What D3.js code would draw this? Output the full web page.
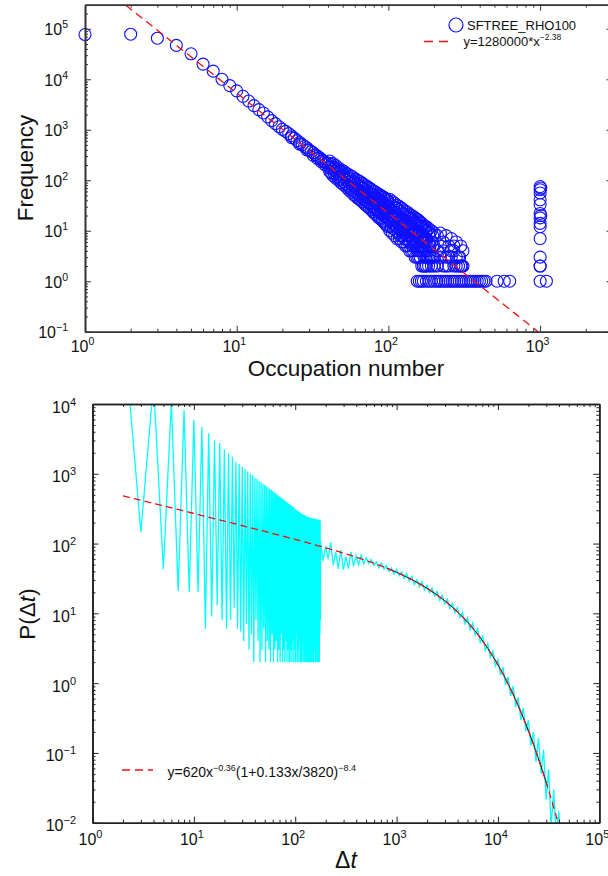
<!DOCTYPE html>
<html>
<head>
<meta charset="utf-8">
<script src="https://cdn.jsdelivr.net/npm/d3@7"></script>
<style>
  body { margin: 0; background: #fff; }
  svg text { font-family: "Liberation Sans", Arial, sans-serif; fill: #111; }
</style>
</head>
<body>
<svg id="chart" width="608" height="876"></svg>
<script>
// ---------- Occupation-number distribution (upper panel) ----------
// each occupation number with the frequencies observed for it
const occupation = [
  1,2,3,4,5,6,7,8,9,10,11,12,13,14,15,16,17,18,19,20,
  21,22,23,24,25,26,27,28,29,30,31,32,33,34,35,36,37,38,39,40,
  41,42,43,44,45,46,47,48,49,50,51,52,53,54,55,56,57,58,59,60,
  61,62,63,64,65,66,67,68,69,70,71,72,73,74,75,76,77,78,79,80,
  81,82,83,84,85,86,87,88,89,90,91,92,93,94,95,96,97,98,99,100,
  102,104,106,108,110,112,114,116,118,120,122,124,126,128,130,132,134,136,138,140,
  142,144,146,148,150,152,154,156,158,160,162,164,166,168,170,172,174,176,178,180,
  184,188,192,196,200,210,220,230,240,250,260,270,280,290,295,300,305,310,
  155,160,165,170,178,185,192,200,208,215,222,230,238,246,255,264,273,283,293,303,
  314,325,336,348,360,372,385,398,412,426,440,520,580,630,
  1000,1010,1100
];
const frequency = [
  [77000],[78000],[65000],[47000],[32000],[20000],[14500],[10000],[7500],[5900],
  [4600],[3700],[3000],[2500],[2150],[1800],[1520],[1320],[1150],[1020],
  [930],[840],[760,700],[680],[610],[560,520],[510],[470],[440,400],[395],
  [370],[350,310],[320],[300,270],[280],[265,235],[245],[230,205],[215],[220,180],
  [240,185,150],[205,140],[215,165,125],[180,135],[195,150,110],[165,118],[175,135,100],[150,105],[160,120,88],[140,95],
  [150,110,80],[125,85],[135,100,72],[115,78],[128,90,64],[108,70],[120,84,58],[98,64],[112,78,52],[92,60],
  [105,72,48],[85,55],[98,66,44],[80,50],[94,62,41],[74,47],[88,57,38],[70,44],[82,53,35],[66,41],
  [78,50,32],[62,38],[74,47,30],[58,36],[70,44,28],[55,34],[66,41,26],[52,31],[62,39,24],[50,29],
  [60,37,22],[46,27],[57,35,21],[44,26],[54,33,19],[42,24],[52,31,18],[40,23],[50,29,17],[38,22],
  [48,28,16],[36,21],[46,26,15],[34,20],[44,25,14],[32,19],[42,24,13],[31,18],[40,23,12],[30,17],
  [42,27,16,10],[33,20,12],[38,24,14,9],[30,18,11],[35,22,13,8],[28,17,10],[32,20,12,7],[26,15,9],[30,18,11,7],[24,14,8],
  [28,17,10,6],[22,13,8],[26,16,9,6],[21,12,7],[24,15,9,5],[19,11,7],[23,14,8,5],[18,10,6],[21,13,8,4],[17,10,6],
  [20,12,7,4],[16,9,5],[19,11,7,4],[15,9,5],[18,10,6,3],[14,8,5],[17,10,6,3],[13,8,4],[16,9,5,3],[13,7,4],
  [15,9,5,3],[12,7,4],[14,8,5,2],[12,6,4],[13,8,5,2],[11,6,3],[12,7,4,2],[10,6,3],[12,7,4,2],[10,5,3],
  [11,6,4,2],[9,5,3],[10,6,3,2],[8,5,3],[9,5,3,2],[8,4,2],[9,5,3],[6,2,4],[8,3,2],[5,2,3],
  [7,4,3],[4,2,5],[6,3,2],[3,2],[3],[5,2],[2],[4,2],
  [1],[1],[1],[1],[1],[1],[1],[1],[1],[1],[1],[1],[1],[1],[1],[1],[1],[1],[1],[1],
  [1],[1],[1],[1],[1],[1],[1],[1],[1],[1],[1],[1],[1],[1],
  [75,65,56,41,33,22,18,14,12,7,3,2,2,1],[70,20],[1]
];
const occFit = { a: 1280000, b: -2.38 };

// ---------- Inter-event time distribution (lower panel) ----------
// short gaps: even and odd Δt alternate between high and low counts
const gapEven = [ // Δt = 2, 4, ..., 176
  160000,20000,10500,8200,5900,4700,3800,3000,2750,2250,1950,1750,1480,1380,1260,1180,1080,1010,950,880,
  850,790,760,720,690,670,635,610,590,560,545,525,505,490,470,458,445,430,418,405,
  398,385,372,366,357,349,340,333,318,310,305,301,290,288,282,279,270,268,262,261,
  255,256,249,247,244,243,238,240,234,235,231,232,228,230,226,225,228,223,226,221,
  224,220,222,218,221,217,219,215
];
const gapOdd = [ // Δt = 3, 5, ..., 177
  145,43,21,20,20,6,9,13,8,6,8,12,6,5.5,4,7,3,5,2,8,
  4,2,3,6,2,4,3,2,5,2,3,4,2,3,2,5,2,3,2,4,
  2,3,2,2,3,2,4,2,3,2,5,2,3,2,4,2,2,3,2,6,
  2,3,2,4,2,3,2,5,2,3,2,4,2,3,2,6,3,2,4,2,
  3,2,5,2,3,2,5,8
];
// longer gaps
const tailDt = [
  178,188,200,211,224,237,251,266,282,299,316,335,355,376,398,422,447,473,501,531,
  562,596,631,668,708,750,794,841,891,944,1000,1059,1122,1189,1259,1334,1413,1496,1585,1679,
  1778,1884,1995,2113,2239,2371,2512,2661,2818,2985,3162,3350,3548,3758,3981,4217,4467,4732,5012,5309,
  5623,5957,6310,6683,7079,7499,7943,8414,8913,9441,10000,10593,11220,11885,12589,13335,14125,14962,15849,16788,
  17783,18836,19953,21135,22387,23714,25119,26607,28184,29854,31623,33497,35481,37584,39811,42170,44668
];
const tailP = [
  105,56.2,91.0,60.1,104,48.8,75.3,43.3,80.4,42.1,64.9,43.8,75.9,47.6,67.0,49.4,67.9,51.3,62.7,51.9,
  59.2,48.9,54.3,44.9,52.2,43.1,48.9,40.2,44.6,36.6,42.5,34.8,39.4,31.5,37.2,29.0,34.1,25.9,30.5,24.2,
  28.4,21.5,25.1,19.8,23.1,17.7,20.6,15.3,18.2,13.8,15.9,11.8,13.8,10.2,12.1,8.67,10.3,7.13,8.59,5.79,
  7.24,4.85,6.03,3.82,4.71,2.96,3.69,2.35,2.90,1.75,2.15,1.31,1.71,0.938,1.23,0.655,0.910,0.456,0.628,0.296,
  0.441,0.206,0.294,0.127,0.201,0.0743,0.164,0.0509,0.111,0.0214,0.0581,0.00877,0.0295,0.0062,0.0146,0.00428,0.0099
];
const gapFit = { a: 620, b: -0.36, c: 0.133, d: 3820, e: -8.4 };

// ---------- layout ----------
const svg = d3.select("#chart");
const xOcc = d3.scaleLog().domain([1, 3000]).range([85, 612.5]);
const yOcc = d3.scaleLog().domain([0.1, 3e5]).range([331.7, 4.7]);
const xGap = d3.scaleLog().domain([1, 1e5]).range([92.5, 599.3]);
const yGap = d3.scaleLog().domain([0.01, 1e4]).range([822.7, 404]);

function logTicks(domain) {
  const lo = Math.floor(Math.log10(domain[0]) + 1e-9), hi = Math.ceil(Math.log10(domain[1]) - 1e-9);
  const major = [], minor = [];
  for (let e = lo; e <= hi; e++) {
    const b = +(`1e${e}`);
    if (b >= domain[0] * 0.999 && b <= domain[1] * 1.001) major.push(b);
    for (let m = 2; m < 10; m++) {
      const v = m * b;
      if (v > domain[0] && v < domain[1]) minor.push(v);
    }
  }
  return { major, minor };
}

function frame(g, x, y, st) {
  const [xa, xb] = x.range(), [ya, yb] = y.range();
  const tx = logTicks(x.domain()), ty = logTicks(y.domain());
  const sides = [
    [d3.axisBottom, x, tx, `translate(0,${ya})`],
    [d3.axisTop, x, tx, `translate(0,${yb})`],
    [d3.axisLeft, y, ty, `translate(${xa},0)`],
    [d3.axisRight, y, ty, `translate(${xb},0)`]
  ];
  sides.forEach(([make, s, t, tr]) => {
    [[t.minor, st.minor], [t.major, st.major]].forEach(([vals, len]) => {
      const ax = g.append("g").attr("transform", tr)
        .call(make(s).tickValues(vals).tickSize(-len).tickSizeOuter(0).tickFormat(""));
      ax.select(".domain").attr("stroke", st.color).attr("stroke-width", st.width);
      ax.selectAll(".tick line").attr("stroke", st.color).attr("stroke-width", 1);
    });
  });
  return { tx, ty };
}

function powLabel(g, px, py, anchor, v, size, supSize) {
  const e = Math.round(Math.log10(v));
  const t = g.append("text").attr("x", px).attr("y", py).attr("text-anchor", anchor)
    .attr("font-size", size);
  t.append("tspan").text("10");
  t.append("tspan").attr("font-size", supSize).attr("dy", -Math.round(size * 0.42))
    .text(e < 0 ? "\u2212" + (-e) : String(e));
}

function clip(id, x, y) {
  svg.append("clipPath").attr("id", id).append("rect")
    .attr("x", x.range()[0]).attr("y", y.range()[1])
    .attr("width", x.range()[1] - x.range()[0]).attr("height", y.range()[0] - y.range()[1]);
}

// ================= upper panel =================
const gTop = svg.append("g");
clip("clipOcc", xOcc, yOcc);

const occPoints = occupation.flatMap((n, i) => frequency[i].map(f => [n, f]));
gTop.append("g").selectAll("circle")
  .data(occPoints)
  .join("circle")
  .attr("cx", d => xOcc(d[0])).attr("cy", d => yOcc(d[1])).attr("r", 6)
  .attr("fill", "none").attr("stroke", "#1010ff").attr("stroke-width", 1.1);

const occFitPts = d3.range(0, 3.48, 0.02).map(l => {
  const xv = Math.pow(10, l);
  return [xv, occFit.a * Math.pow(xv, occFit.b)];
});
gTop.append("path").datum(occFitPts).attr("clip-path", "url(#clipOcc)")
  .attr("d", d3.line().x(d => xOcc(d[0])).y(d => yOcc(d[1])))
  .attr("fill", "none").attr("stroke", "#ee1111").attr("stroke-width", 1.3)
  .attr("stroke-dasharray", "8,5");

const fTop = frame(gTop, xOcc, yOcc, { major: 6, minor: 3, color: "#333", width: 1.6 });
fTop.tx.major.forEach(v => powLabel(gTop, xOcc(v) - 2.5, 352, "middle", v, 16, 10.5));
fTop.ty.major.forEach(v => powLabel(gTop, 68, yOcc(v) + 6.5, "end", v, 16, 10.5));

gTop.append("text").attr("x", 346).attr("y", 376).attr("text-anchor", "middle")
  .attr("font-size", 22.5).text("Occupation number");
gTop.append("text").attr("transform", "translate(33,168) rotate(-90)").attr("text-anchor", "middle")
  .attr("font-size", 22.5).text("Frequency");

// legend
gTop.append("circle").attr("cx", 456).attr("cy", 25).attr("r", 7)
  .attr("fill", "none").attr("stroke", "#1010ff").attr("stroke-width", 1.2);
gTop.append("text").attr("x", 467).attr("y", 30).attr("font-size", 13).text("SFTREE_RHO100");
gTop.append("line").attr("x1", 424).attr("x2", 453).attr("y1", 41.5).attr("y2", 41.5)
  .attr("stroke", "#ee1111").attr("stroke-width", 1.3).attr("stroke-dasharray", "9,6");
{
  const t = gTop.append("text").attr("x", 463.5).attr("y", 46).attr("font-size", 13);
  t.append("tspan").text("y=1280000*x");
  t.append("tspan").attr("font-size", 8.5).attr("dy", -6).text("\u22122.38");
}

// ================= lower panel =================
const gBot = svg.append("g");
clip("clipGap", xGap, yGap);

const gapSeries = [];
gapEven.forEach((v, i) => {
  gapSeries.push([2 + 2 * i, v]);
  gapSeries.push([3 + 2 * i, gapOdd[i]]);
});
tailDt.forEach((t, i) => gapSeries.push([t, tailP[i]]));

const lineGap = d3.line().x(d => xGap(d[0])).y(d => yGap(d[1]));
gBot.append("path").datum(gapSeries).attr("clip-path", "url(#clipGap)")
  .attr("d", lineGap).attr("fill", "none").attr("stroke", "#00ffff").attr("stroke-width", 1.3)
  .attr("stroke-linejoin", "miter");

const gapFitFn = xv => gapFit.a * Math.pow(xv, gapFit.b) * Math.pow(1 + gapFit.c * xv / gapFit.d, gapFit.e);
const fitBlack = d3.range(2.9, 4.49, 0.01).map(l => [Math.pow(10, l), gapFitFn(Math.pow(10, l))]);
gBot.append("path").datum(fitBlack).attr("clip-path", "url(#clipGap)")
  .attr("d", lineGap).attr("fill", "none").attr("stroke", "#000").attr("stroke-width", 1);
const fitRed = d3.range(Math.log10(2), 4.7, 0.01).map(l => [Math.pow(10, l), gapFitFn(Math.pow(10, l))]);
gBot.append("path").datum(fitRed).attr("clip-path", "url(#clipGap)")
  .attr("d", lineGap).attr("fill", "none").attr("stroke", "#ee1111").attr("stroke-width", 1.3)
  .attr("stroke-dasharray", "7,4");

const fBot = frame(gBot, xGap, yGap, { major: 6, minor: 3, color: "#222", width: 1.6 });
fBot.tx.major.forEach(v => powLabel(gBot, xGap(v) - 2, 845, "middle", v, 16, 11));
fBot.ty.major.forEach(v => powLabel(gBot, 76, yGap(v) + 8.5, "end", v, 16, 11));

{
  const t = gBot.append("text").attr("x", 346).attr("y", 868).attr("text-anchor", "middle").attr("font-size", 23);
  t.append("tspan").text("\u0394");
  t.append("tspan").attr("font-style", "italic").text("t");
}
{
  const t = gBot.append("text").attr("transform", "translate(35,614) rotate(-90)")
    .attr("text-anchor", "middle").attr("font-size", 22.5);
  t.append("tspan").text("P(\u0394");
  t.append("tspan").attr("font-style", "italic").text("t");
  t.append("tspan").text(")");
}

// legend
gBot.append("line").attr("x1", 122).attr("x2", 153).attr("y1", 770).attr("y2", 770)
  .attr("stroke", "#ee1111").attr("stroke-width", 1.3).attr("stroke-dasharray", "8,5");
{
  const t = gBot.append("text").attr("x", 167.5).attr("y", 776.5).attr("font-size", 14);
  t.append("tspan").text("y=620x");
  t.append("tspan").attr("font-size", 9).attr("dy", -6).text("\u22120.36");
  t.append("tspan").attr("dy", 6).text("(1+0.133x/3820)");
  t.append("tspan").attr("font-size", 9).attr("dy", -6).text("\u22128.4");
}
</script>
</body>
</html>
